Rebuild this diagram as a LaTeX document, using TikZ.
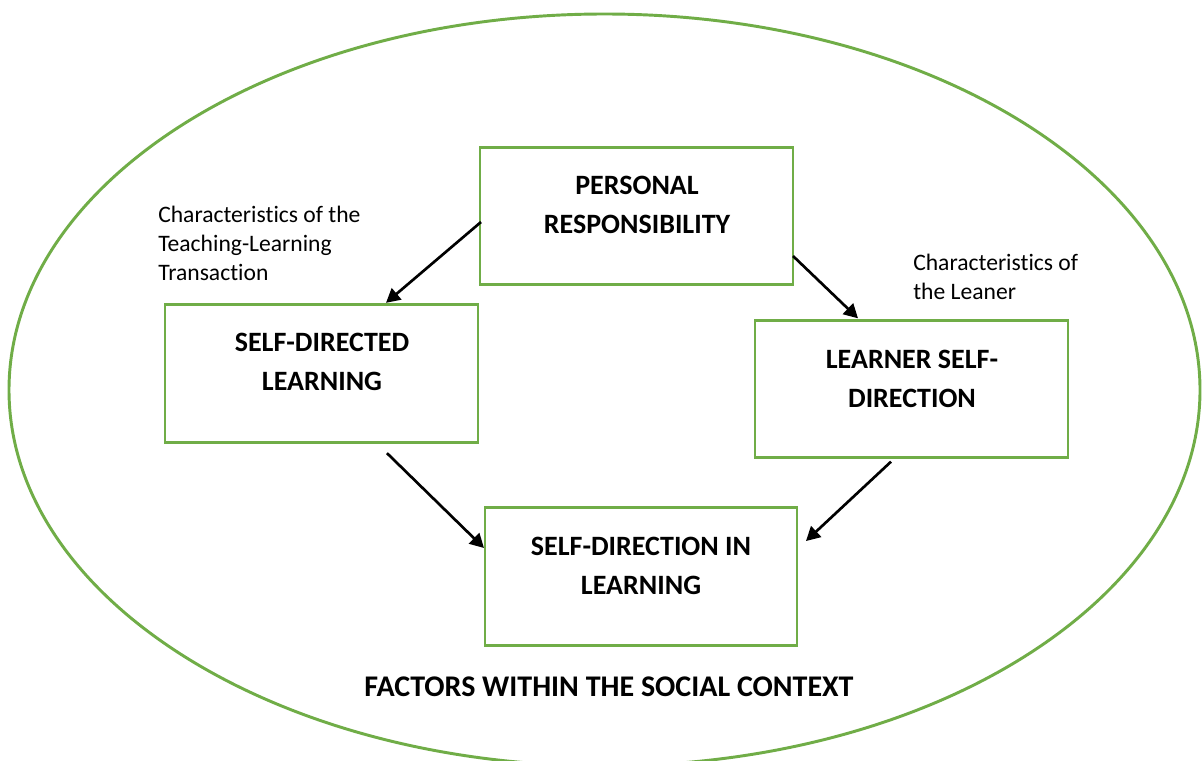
\documentclass[tikz,border=0pt]{standalone}
\usepackage{fontspec}
\setmainfont[Ligatures=NoCommon]{Carlito}
\usetikzlibrary{arrows.meta,calc}
\definecolor{leaf}{HTML}{70AD47}
\tikzset{
  box/.style={draw=leaf, line width=2.2pt, rectangle, inner sep=0pt, outer sep=0pt,
              minimum width=#1*0.75pt, minimum height=103pt},
  boxtext/.style={anchor=base, align=center, inner sep=0pt,
              font=\fontsize{21}{29.25}\selectfont\bfseries},
  bigtext/.style={anchor=base, inner sep=0pt,
              font=\fontsize{22.5}{27}\selectfont\bfseries},
  note/.style={anchor=base west, align=left, inner sep=0pt,
              font=\fontsize{17.7}{21.5}\selectfont},
  link/.style={line width=2pt, -{Triangle[length=10.5pt,width=11pt]}}
}
\begin{document}
\begin{tikzpicture}[x=0.75pt, y=-0.75pt]
  \useasboundingbox (0,0) rectangle (1202,760);
  \clip (0,0) rectangle (1202,760);
  \fill[white] (0,0) rectangle (1202,760);

  % surrounding social context
  \draw[leaf, line width=2.2pt] (604.5,390) ellipse [x radius=595.5, y radius=376];

  % boxes
  \node[box=313] (b1) at (636.5,216) {};
  \node[box=313] (b2) at (321.5,373.5) {};
  \node[box=313] (b3) at (911.5,389) {};
  \node[box=312] (b4) at (641,576.5) {};

  % box captions (anchored at the baseline of their last line)
  \node[boxtext] (t1) at (637,233) {PERSONAL\\RESPONSIBILITY};
  \node[boxtext] (t2) at (322,390) {SELF-DIRECTED\\LEARNING};
  \node[boxtext] (t3) at (912,407) {LEARNER SELF-\\DIRECTION};
  \node[boxtext] (t4) at (641,594) {SELF-DIRECTION IN\\LEARNING};

  % side notes
  \node[note] (n1) at (158,280) {Characteristics of the\\Teaching-Learning\\Transaction};
  \node[note] (n2) at (913,299) {Characteristics of\\the Leaner};

  % context caption
  \node[bigtext] (ctx) at (609,696) {FACTORS WITHIN THE SOCIAL CONTEXT};

  % connectors
  \draw[link] ($(b1.west)+(1,6)$) -- ($(b2.north)+(64.5,-2)$);
  \draw[link] ($(b1.east)+(0,40)$) -- ($(b3.north)+(-53.5,-2)$);
  \draw[link] ($(b2.south)+(65.5,11)$) -- ($(b4.west)+(-1,-28.5)$);
  \draw[link] ($(b3.south)+(-20.5,4)$) -- ($(b4.east)+(9,-35.5)$);
\end{tikzpicture}
\end{document}
